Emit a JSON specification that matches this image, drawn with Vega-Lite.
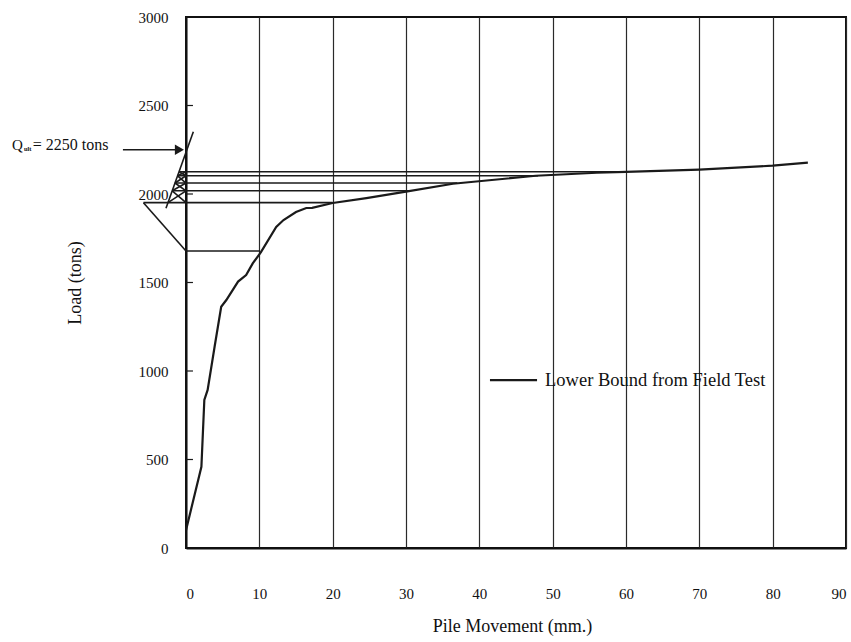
{
  "$schema": "https://vega.github.io/schema/vega-lite/v6.json",
  "width": 660,
  "height": 531,
  "autosize": {"type": "none"},
  "padding": {"left": 186, "top": 17, "right": 5, "bottom": 94},
  "background": "white",
  "config": {
    "font": "Liberation Serif",
    "view": {"stroke": "#111111", "strokeWidth": 2}
  },
  "datasets": {
    "curve": [
      {"mm": 0, "tons": 100},
      {"mm": 2.1, "tons": 459},
      {"mm": 2.5, "tons": 836},
      {"mm": 2.95, "tons": 893},
      {"mm": 3.9, "tons": 1137},
      {"mm": 4.8, "tons": 1363},
      {"mm": 5.5, "tons": 1401},
      {"mm": 7.1, "tons": 1505},
      {"mm": 8.2, "tons": 1542},
      {"mm": 9.1, "tons": 1608},
      {"mm": 10.2, "tons": 1670},
      {"mm": 12.3, "tons": 1814},
      {"mm": 13.3, "tons": 1853},
      {"mm": 15.0, "tons": 1898},
      {"mm": 16.4, "tons": 1921},
      {"mm": 17.2, "tons": 1922},
      {"mm": 20, "tons": 1949},
      {"mm": 24.6, "tons": 1977},
      {"mm": 30, "tons": 2013},
      {"mm": 36.4, "tons": 2058},
      {"mm": 47.7, "tons": 2103},
      {"mm": 56, "tons": 2120},
      {"mm": 60, "tons": 2125},
      {"mm": 70, "tons": 2138},
      {"mm": 80, "tons": 2160},
      {"mm": 84.8, "tons": 2177}
    ],
    "construction": [
      {"x": -8.6, "y": 2250, "x2": -1.2, "y2": 2250},
      {"x": -2.73, "y": 1919, "x2": 1.0, "y2": 2352},
      {"x": -0.95, "y": 2126, "x2": 59, "y2": 2126},
      {"x": -1.15, "y": 2103, "x2": 48, "y2": 2103},
      {"x": -1.5, "y": 2062, "x2": 37, "y2": 2062},
      {"x": -1.88, "y": 2018, "x2": 30.5, "y2": 2018},
      {"x": -5.8, "y": 1951, "x2": 20, "y2": 1951},
      {"x": -5.8, "y": 1951, "x2": 0, "y2": 1678},
      {"x": 0, "y": 1678, "x2": 10.1, "y2": 1678},
      {"x": -0.95, "y": 2126, "x2": 0, "y2": 2103},
      {"x": -1.15, "y": 2103, "x2": 0, "y2": 2126},
      {"x": -1.15, "y": 2103, "x2": 0, "y2": 2062},
      {"x": -1.5, "y": 2062, "x2": 0, "y2": 2103},
      {"x": -1.5, "y": 2062, "x2": 0, "y2": 2018},
      {"x": -1.88, "y": 2018, "x2": 0, "y2": 2062},
      {"x": -1.88, "y": 2018, "x2": 0, "y2": 1951},
      {"x": -2.46, "y": 1951, "x2": 0, "y2": 2018}
    ],
    "loadTicks": [
      {"x": 0, "y": 500, "x2": 0.95},
      {"x": 0, "y": 1000, "x2": 0.95},
      {"x": 0, "y": 1500, "x2": 0.95},
      {"x": 0, "y": 2000, "x2": 0.95},
      {"x": 0, "y": 2500, "x2": 0.95}
    ],
    "arrowHead": [{"x": -0.9, "y": 2250}],
    "legendSample": [{"x": 41.45, "y": 949, "x2": 47.87, "y2": 949}],
    "qSymbol": [{"x": -23.73, "y": 2277, "label": "Q"}],
    "qSub": [{"x": -22.1, "y": 2252, "label": "ult"}],
    "qValue": [{"x": -20.9, "y": 2277, "label": "= 2250 tons"}],
    "legendText": [{"x": 48.96, "y": 949, "label": "Lower Bound from Field Test"}]
  },
  "layer": [
    {
      "data": {"name": "curve"},
      "mark": {"type": "line", "color": "#1a1a1a", "strokeWidth": 2.2},
      "encoding": {
        "x": {
          "field": "mm",
          "type": "quantitative",
          "scale": {"domain": [0, 90], "nice": false, "zero": false},
          "axis": {
            "values": [0, 10, 20, 30, 40, 50, 60, 70, 80, 90],
            "grid": true,
            "gridColor": "#2a2a2a",
            "gridWidth": 1.2,
            "gridOpacity": 1,
            "ticks": false,
            "domainColor": "#111111",
            "domainWidth": 2,
            "labelFontSize": 15,
            "labelColor": "#111111",
            "labelPadding": 38,
            "title": "Pile Movement (mm.)",
            "titleFontSize": 18,
            "titleFontWeight": "normal",
            "titleColor": "#111111",
            "titleX": 326,
            "titleY": 78,
            "titleAlign": "center",
            "titleBaseline": "middle"
          }
        },
        "y": {
          "field": "tons",
          "type": "quantitative",
          "scale": {"domain": [0, 3000], "nice": false},
          "axis": {
            "values": [0, 500, 1000, 1500, 2000, 2500, 3000],
            "format": "d",
            "grid": false,
            "ticks": false,
            "domainColor": "#111111",
            "domainWidth": 2,
            "labelFontSize": 15,
            "labelColor": "#111111",
            "labelPadding": 18,
            "title": "Load (tons)",
            "titleFontSize": 18,
            "titleFontWeight": "normal",
            "titleColor": "#111111",
            "titleAngle": -90,
            "titleX": -111,
            "titleY": 265.5,
            "titleAlign": "center",
            "titleBaseline": "middle"
          }
        }
      }
    },
    {
      "data": {"name": "loadTicks"},
      "mark": {"type": "rule", "color": "#1a1a1a", "strokeWidth": 1.2},
      "encoding": {
        "x": {"field": "x", "type": "quantitative"},
        "y": {"field": "y", "type": "quantitative"},
        "x2": {"field": "x2"}
      }
    },
    {
      "data": {"name": "construction"},
      "mark": {"type": "rule", "color": "#1a1a1a", "strokeWidth": 1.6},
      "encoding": {
        "x": {"field": "x", "type": "quantitative"},
        "y": {"field": "y", "type": "quantitative"},
        "x2": {"field": "x2"},
        "y2": {"field": "y2"}
      }
    },
    {
      "data": {"name": "legendSample"},
      "mark": {"type": "rule", "color": "#1a1a1a", "strokeWidth": 2.2},
      "encoding": {
        "x": {"field": "x", "type": "quantitative"},
        "y": {"field": "y", "type": "quantitative"},
        "x2": {"field": "x2"},
        "y2": {"field": "y2"}
      }
    },
    {
      "data": {"name": "arrowHead"},
      "mark": {"type": "point", "shape": "triangle-right", "filled": true, "color": "#1a1a1a", "opacity": 1, "size": 110},
      "encoding": {
        "x": {"field": "x", "type": "quantitative"},
        "y": {"field": "y", "type": "quantitative"}
      }
    },
    {
      "data": {"name": "qSymbol"},
      "mark": {"type": "text", "align": "left", "baseline": "middle", "fontSize": 15, "color": "#111111"},
      "encoding": {
        "x": {"field": "x", "type": "quantitative"},
        "y": {"field": "y", "type": "quantitative"},
        "text": {"field": "label"}
      }
    },
    {
      "data": {"name": "qSub"},
      "mark": {"type": "text", "align": "left", "baseline": "middle", "fontSize": 6.5, "fontWeight": "bold", "color": "#111111"},
      "encoding": {
        "x": {"field": "x", "type": "quantitative"},
        "y": {"field": "y", "type": "quantitative"},
        "text": {"field": "label"}
      }
    },
    {
      "data": {"name": "qValue"},
      "mark": {"type": "text", "align": "left", "baseline": "middle", "fontSize": 16, "color": "#111111"},
      "encoding": {
        "x": {"field": "x", "type": "quantitative"},
        "y": {"field": "y", "type": "quantitative"},
        "text": {"field": "label"}
      }
    },
    {
      "data": {"name": "legendText"},
      "mark": {"type": "text", "align": "left", "baseline": "middle", "fontSize": 18.5, "color": "#111111"},
      "encoding": {
        "x": {"field": "x", "type": "quantitative"},
        "y": {"field": "y", "type": "quantitative"},
        "text": {"field": "label"}
      }
    }
  ]
}
